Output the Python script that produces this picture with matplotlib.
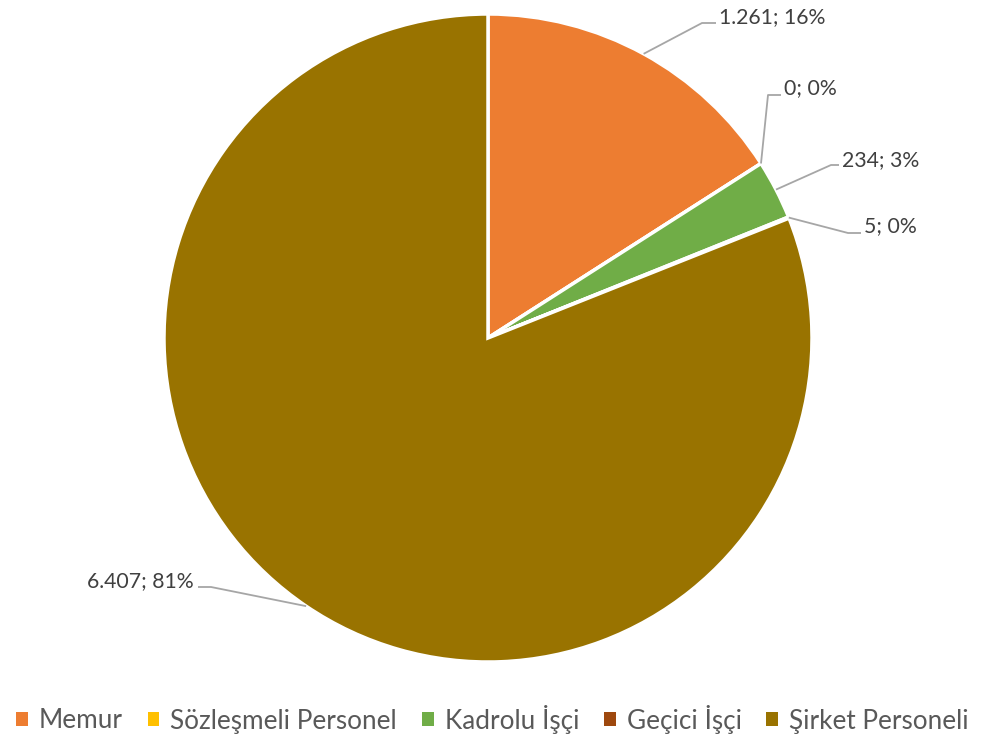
import numpy as np
import matplotlib
matplotlib.use("Agg")
import matplotlib.pyplot as plt
from matplotlib.patches import Patch

categories = ["Memur", "Sözleşmeli Personel", "Kadrolu İşçi", "Geçici İşçi", "Şirket Personeli"]
values = [1261, 0, 234, 5, 6407]
colors = ["#ED7D31", "#FFC000", "#70AD47", "#9E480E", "#997300"]

W, H = 985, 735
# label layout in reference pixel coords (x, y from top)
label_pos = [(719, 17), (784, 88), (842, 160), (864, 226), (194, 581)]
elbow_pos = [(702, 23), (768, 95), (831, 165), (848, 233), (211, 587)]
line_end_x = [716, 781, 839, 861, 198]
label_ha = ["left", "left", "left", "left", "right"]

cx, cy, r = 488, H - 338, 324

fig = plt.figure(figsize=(W / 100, H / 100), dpi=100)
ax = fig.add_axes([0, 0, 1, 1])
wedges, _ = ax.pie(values, colors=colors, startangle=90, counterclock=False,
                   center=(cx, cy), radius=r,
                   wedgeprops=dict(edgecolor="white", linewidth=2.5))
ax.set_xlim(0, W)
ax.set_ylim(0, H)
ax.set_aspect("auto")
ax.axis("off")

total = sum(values)
for i, w in enumerate(wedges):
    mid = np.deg2rad((w.theta1 + w.theta2) / 2)
    ax_, ay_ = cx + r * np.cos(mid), cy + r * np.sin(mid)
    ex, ey = elbow_pos[i]
    ey = H - ey
    ax.plot([ax_, ex, line_end_x[i]], [ay_, ey, ey], color="#A6A6A6", lw=1.3,
            solid_capstyle="butt", zorder=5)
    txt = f"{values[i]:,}".replace(",", ".") + f"; {round(values[i] / total * 100)}%"
    tx, ty = label_pos[i]
    ax.text(tx, H - ty, txt, ha=label_ha[i], va="center", fontsize=15.3,
            color="#404040", family="Lato")

handles = [Patch(facecolor=c, edgecolor="none") for c in colors]
fig.legend(handles, categories, loc="center", ncol=5, frameon=False,
           bbox_to_anchor=(0.5, 1 - 719 / H), handlelength=0.45, handleheight=0.45,
           handletextpad=0.42, columnspacing=0.95, borderpad=0, borderaxespad=0,
           prop=dict(family="Lato", size=18.8), labelcolor="#595959")

fig.savefig("out.png", dpi=100)
